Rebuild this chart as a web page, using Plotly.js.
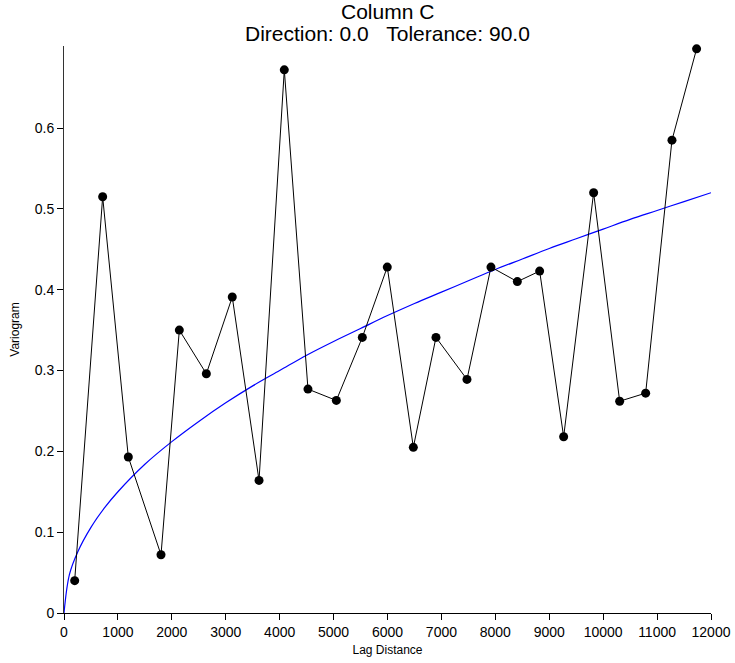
<!DOCTYPE html>
<html>
<head>
<meta charset="utf-8">
<script src="https://cdn.plot.ly/plotly-3.0.1.min.js"></script>
<style>html,body{margin:0;padding:0;background:#fff;}#chart{width:735px;height:663px;}</style>
</head>
<body>
<div id="chart"></div>
<script>
const lagDistance = [198, 717, 1193, 1799, 2139, 2640, 3121, 3617, 4086, 4525, 5051, 5533, 5996, 6479, 6899, 7474, 7919, 8408, 8822, 9267, 9823, 10306, 10788, 11276, 11733];
const variogram   = [0.040, 0.515, 0.193, 0.072, 0.350, 0.296, 0.391, 0.164, 0.672, 0.277, 0.263, 0.341, 0.428, 0.205, 0.341, 0.289, 0.428, 0.410, 0.423, 0.218, 0.520, 0.262, 0.272, 0.585, 0.698];

// Model curve
const modelLag = [0, 100, 250, 500, 750, 1000, 1500, 2000, 2500, 3000, 3500, 4000, 4500, 5000, 5500, 6000, 6500, 7000, 7500, 8000, 8500, 9000, 9500, 10000, 10500, 11000, 11500, 12000];
const modelVal = [0, 0.0475, 0.075, 0.106, 0.130, 0.150, 0.184, 0.212, 0.237, 0.260, 0.281, 0.300, 0.319, 0.336, 0.352, 0.368, 0.383, 0.397, 0.411, 0.425, 0.438, 0.451, 0.463, 0.475, 0.487, 0.498, 0.509, 0.520];

const xTicks = [0, 1000, 2000, 3000, 4000, 5000, 6000, 7000, 8000, 9000, 10000, 11000, 12000];
const yTicks = [0, 0.1, 0.2, 0.3, 0.4, 0.5, 0.6];

const titleLine1 = 'Column C';
const titleLine2 = 'Direction: 0.0\u00a0\u00a0\u00a0Tolerance: 90.0';

const font = 'Liberation Sans, Arial, sans-serif';

const traces = [
  {
    x: modelLag, y: modelVal, type: 'scatter', mode: 'lines',
    line: {color: '#0000ff', width: 1.2, shape: 'spline'},
    hoverinfo: 'skip', cliponaxis: false
  },
  {
    x: lagDistance, y: variogram, type: 'scatter', mode: 'lines+markers',
    line: {color: '#000000', width: 1},
    marker: {color: '#000000', size: 9, symbol: 'circle'},
    cliponaxis: false
  }
];

const layout = {
  width: 735, height: 663,
  margin: {l: 64, r: 24, t: 46, b: 50},
  paper_bgcolor: '#ffffff', plot_bgcolor: '#ffffff',
  showlegend: false,
  font: {family: font, color: '#000000', size: 14},
  annotations: [{
    text: titleLine1, showarrow: false,
    xref: 'paper', yref: 'paper', x: 0.5, y: 1.061,
    xanchor: 'center', yanchor: 'middle',
    font: {family: font, size: 21, color: '#000000'}
  }, {
    text: titleLine2, showarrow: false,
    xref: 'paper', yref: 'paper', x: 0.5, y: 1.022,
    xanchor: 'center', yanchor: 'middle',
    font: {family: font, size: 21, color: '#000000'}
  }],
  xaxis: {
    range: [0, 12000],
    tickvals: xTicks, ticktext: xTicks.map(String),
    ticks: 'outside', ticklen: 6, tickcolor: '#000', tickwidth: 1,
    showline: true, linecolor: '#000', linewidth: 1,
    showgrid: false, zeroline: false,
    tickfont: {family: font, size: 14, color: '#000'},
    title: {text: 'Lag Distance', font: {family: font, size: 12, color: '#000'}, standoff: 6}
  },
  yaxis: {
    range: [0, 0.7015],
    tickvals: yTicks, ticktext: yTicks.map(v => v === 0 ? '0' : v.toFixed(1)),
    ticks: 'outside', ticklen: 6, tickcolor: '#000', tickwidth: 1,
    showline: true, linecolor: '#333', linewidth: 1,
    showgrid: false, zeroline: false,
    tickfont: {family: font, size: 14, color: '#000'},
    title: {text: 'Variogram', font: {family: font, size: 12, color: '#000'}, standoff: 12}
  }
};

Plotly.newPlot('chart', traces, layout, {displayModeBar: false, staticPlot: true});
</script>
</body>
</html>
